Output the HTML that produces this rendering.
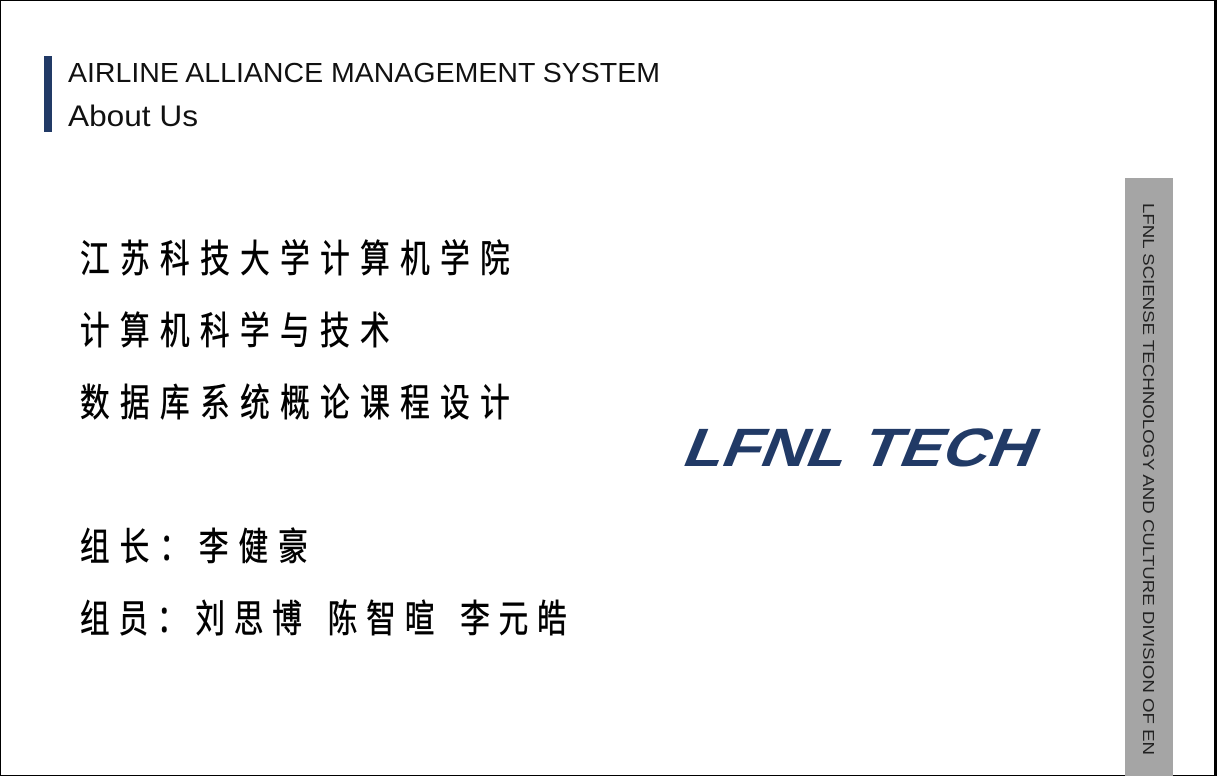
<!DOCTYPE html>
<html><head><meta charset="utf-8"><style>
html,body{margin:0;padding:0;background:#fff;}
svg{display:block;}
</style></head><body>
<svg width="1217" height="776" viewBox="0 0 1217 776" xmlns="http://www.w3.org/2000/svg">
<rect x="0.5" y="0.5" width="1215" height="775" fill="#fff" stroke="#000" stroke-width="1"/>
<rect x="1214" y="0" width="3" height="776" fill="#000"/>
<rect x="44" y="56" width="8" height="76" fill="#213a66"/>
<g font-family="'Liberation Sans', sans-serif" fill="#111">
<text x="68" y="82" font-size="28" textLength="592" lengthAdjust="spacingAndGlyphs">AIRLINE ALLIANCE MANAGEMENT SYSTEM</text>
<text x="68" y="126" font-size="30" textLength="130" lengthAdjust="spacingAndGlyphs">About Us</text>
</g>
<g font-family="'Liberation Sans','Noto Sans CJK SC',sans-serif" fill="#000" stroke="#000" stroke-width="0.6" font-size="38" transform="scale(0.78,1)">
<text x="102.6" y="272" textLength="551" lengthAdjust="spacing">江苏科技大学计算机学院</text>
<text x="102.6" y="344" textLength="397" lengthAdjust="spacing">计算机科学与技术</text>
<text x="102.6" y="416" textLength="551" lengthAdjust="spacing">数据库系统概论课程设计</text>
<text x="102.6" y="560" textLength="292" lengthAdjust="spacing">组长：李健豪</text>
<text x="102.6" y="632" textLength="624" lengthAdjust="spacing">组员：刘思博 陈智暄 李元皓</text>
</g>
<g transform="translate(680,466) skewX(-22)">
<text x="0" y="0" font-family="'Liberation Sans',sans-serif" font-weight="bold" font-size="54" fill="#213a66" textLength="350" lengthAdjust="spacingAndGlyphs">LFNL  TECH</text>
</g>
<rect x="1125" y="178" width="48" height="598" fill="#a5a5a5"/>
<text transform="translate(1143,203) rotate(90)" font-family="'Liberation Sans',sans-serif" font-size="16" fill="#222" textLength="552" lengthAdjust="spacingAndGlyphs">LFNL SCIENSE TECHNOLOGY AND CULTURE DIVISION OF EN</text>
</svg>
</body></html>
